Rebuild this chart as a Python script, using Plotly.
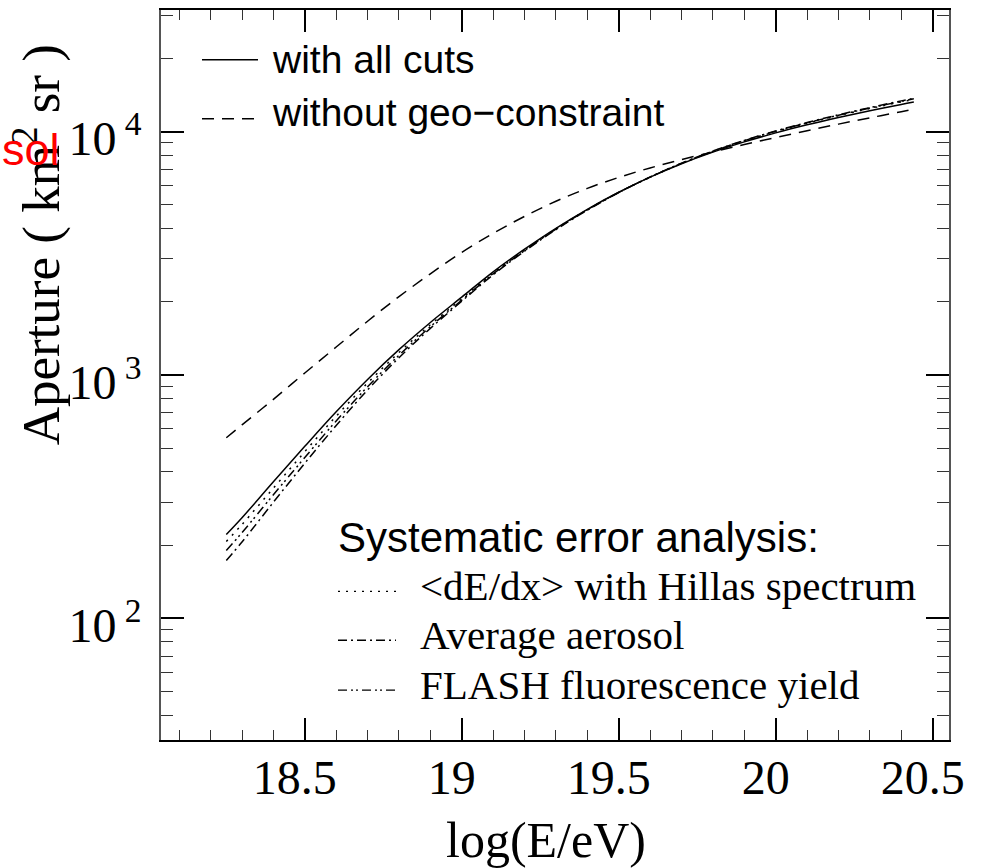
import plotly.graph_objects as go

# ---- data ----
log_e = [18.25, 18.3, 18.4, 18.5, 18.6, 18.7, 18.8, 18.9, 19.0, 19.1, 19.2, 19.3,
         19.4, 19.5, 19.6, 19.7, 19.8, 19.9, 20.0, 20.1, 20.2, 20.3, 20.4, 20.44]

aperture_all_cuts = [221, 259, 364, 509, 706, 959, 1271, 1644, 2089, 2655, 3289, 4009,
                     4797, 5636, 6501, 7379, 8241, 9078, 9886, 10666, 11429, 12190, 12942, 13240]

aperture_no_geo = [552, 624, 794, 1019, 1303, 1663, 2099, 2606, 3192, 3819, 4487, 5176,
                   5848, 6486, 7096, 7674, 8260, 8851, 9462, 10093, 10740, 11402, 12078, 12360]

aperture_hillas = [207, 243, 343, 484, 677, 927, 1237, 1609, 2056, 2623, 3263, 3989,
                   4783, 5630, 6501, 7401, 8290, 9160, 10005, 10826, 11635, 12446, 13253, 13580]

aperture_aerosol = [173, 206, 300, 434, 620, 868, 1178, 1555, 2010, 2583, 3226, 3957,
                    4759, 5619, 6514, 7423, 8323, 9205, 10064, 10901, 11726, 12556, 13382, 13720]

aperture_flash = [190, 225, 322, 458, 647, 895, 1205, 1580, 2031, 2605, 3246, 3977,
                  4773, 5625, 6508, 7409, 8307, 9187, 10044, 10869, 11680, 12507, 13317, 13650]

y_tick_vals = [100, 1000, 10000]
y_tick_text = ["10<sup> 2</sup>", "10<sup> 3</sup>", "10<sup> 4</sup>"]

SERIF = "Liberation Serif"
SANS = "Liberation Sans"

DASH = "12px,8px"
DOT = "2px,6px"
DASHDOT = "9px,4px,2px,4px"
DASHDOTDOT = "9px,4px,2px,3px,2px,4px"

series = [
    ("with all cuts", aperture_all_cuts, "solid"),
    ("without geo-constraint", aperture_no_geo, DASH),
    ("<dE/dx> with Hillas spectrum", aperture_hillas, DOT),
    ("Average aerosol", aperture_aerosol, DASHDOT),
    ("FLASH fluorescence yield", aperture_flash, DASHDOTDOT),
]

fig = go.Figure()
for name, vals, dash in series:
    fig.add_trace(go.Scatter(x=log_e, y=vals, mode="lines", name=name,
                             line=dict(color="black", width=1.5, dash=dash, shape="spline"),
                             showlegend=False))

W, H = 983, 868
L, R, T, B = 161, 34, 8, 128
pw, ph = W - L - R, H - T - B


def px(x):
    return (x - L) / pw


def py(y):
    return 1 - (y - T) / ph


shapes = []
annotations = []

# top legend
top_rows = [("with all cuts", "solid", 58, 58), ("without geo\u2212constraint", DASH, 117, 111)]
for label, dash, yl, yt in top_rows:
    shapes.append(dict(type="line", xref="paper", yref="paper", x0=px(202), x1=px(258),
                       y0=py(yl), y1=py(yl), line=dict(color="black", width=1.5, dash=dash)))
    annotations.append(dict(xref="paper", yref="paper", x=px(270), y=py(yt), text=label,
                            showarrow=False, xanchor="left", yanchor="middle",
                            font=dict(family=SANS, size=39, color="black")))

# systematic legend
annotations.append(dict(xref="paper", yref="paper", x=px(336), y=py(537),
                        text="Systematic error analysis:", showarrow=False,
                        xanchor="left", yanchor="middle",
                        font=dict(family=SANS, size=42, color="black")))
sys_rows = [("&lt;dE/dx&gt; with Hillas spectrum", DOT, 586),
            ("Average aerosol", DASHDOT, 635),
            ("FLASH fluorescence yield", DASHDOTDOT, 685)]
for label, dash, yy in sys_rows:
    shapes.append(dict(type="line", xref="paper", yref="paper", x0=px(338), x1=px(396),
                       y0=py(yy + 5), y1=py(yy + 5), line=dict(color="black", width=1.3, dash=dash)))
    annotations.append(dict(xref="paper", yref="paper", x=px(418), y=py(yy), text=label,
                            showarrow=False, xanchor="left", yanchor="middle",
                            font=dict(family=SERIF, size=41, color="black")))

# y-axis title
annotations.append(dict(xref="paper", yref="paper", x=px(37), y=py(244),
                        text="Aperture ( km<sup>2</sup> sr )", textangle=-90, showarrow=False,
                        xanchor="center", yanchor="middle",
                        font=dict(family=SERIF, size=53, color="black")))
# x-axis title
annotations.append(dict(xref="paper", yref="paper", x=px(546), y=py(840),
                        text="log(E/eV)", showarrow=False,
                        xanchor="center", yanchor="middle",
                        font=dict(family=SERIF, size=50, color="black")))
# stray red text seen at the left edge
annotations.append(dict(xref="paper", yref="paper", x=px(0), y=py(148), text="sol",
                        showarrow=False, xanchor="left", yanchor="middle",
                        font=dict(family=SANS, size=45, color="#ff0000")))

minor_y = [k * 10 ** e for e in range(1, 5) for k in range(2, 10)]

fig.update_layout(
    width=W, height=H,
    margin=dict(l=L, r=R, t=T, b=B),
    plot_bgcolor="white", paper_bgcolor="white",
    shapes=shapes, annotations=annotations,
    xaxis=dict(
        range=[18.042, 20.552], tickmode="linear", tick0=18.5, dtick=0.5,
        ticks="inside", ticklen=22, tickwidth=1.5, tickcolor="black",
        minor=dict(dtick=0.1, tick0=18.0, ticks="inside", ticklen=10, tickwidth=1, tickcolor="#333"),
        showline=True, linecolor="black", linewidth=2, mirror="ticks",
        showgrid=False, zeroline=False,
        tickfont=dict(family=SERIF, size=48, color="black"),
        ticklabelshift=-10, ticklabelstandoff=-6,
    ),
    yaxis=dict(
        type="log", range=[1.5, 4.5],
        tickmode="array", tickvals=y_tick_vals, ticktext=y_tick_text,
        ticks="inside", ticklen=23, tickwidth=1.5, tickcolor="black",
        minor=dict(tickvals=minor_y, ticks="inside", ticklen=12, tickwidth=1, tickcolor="#333"),
        showline=True, linecolor="#555", linewidth=1.5, mirror="ticks",
        showgrid=False, zeroline=False,
        tickfont=dict(family=SERIF, size=48, color="black"),
        ticklabelstandoff=8, ticklabelshift=7,
    ),
)

fig.write_html("out.html")
